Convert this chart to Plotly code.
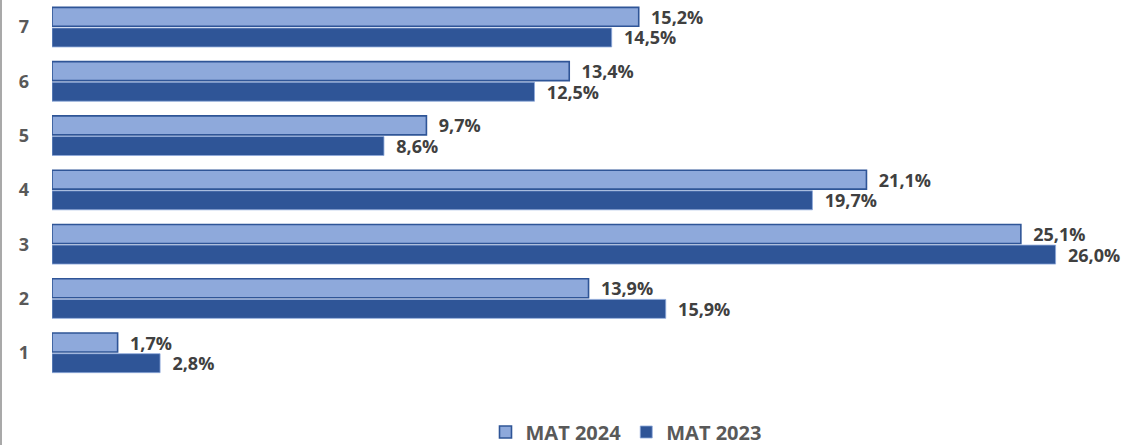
import plotly.graph_objects as go

categories = ["1", "2", "3", "4", "5", "6", "7"]
mat_2024 = [1.7, 13.9, 25.1, 21.1, 9.7, 13.4, 15.2]
mat_2023 = [2.8, 15.9, 26.0, 19.7, 8.6, 12.5, 14.5]

def fmt(v):
    return "\u00a0\u00a0" + f"{v:.1f}".replace(".", ",") + "%"

label_font = dict(family="Open Sans, Lato, sans-serif", size=18, color="#404040", weight="bold")

fig = go.Figure()
fig.add_trace(go.Bar(
    name="MAT 2023", y=categories, x=mat_2023, orientation="h",
    marker=dict(color="#2F5597", line=dict(color="#8EA9DB", width=0.8)),
    text=[fmt(v) for v in mat_2023], textposition="outside",
    textfont=label_font, cliponaxis=False, constraintext="none",
))
fig.add_trace(go.Bar(
    name="MAT 2024", y=categories, x=mat_2024, orientation="h",
    marker=dict(color="#8EA9DB", line=dict(color="#2F5597", width=1.6)),
    text=[fmt(v) for v in mat_2024], textposition="outside",
    textfont=label_font, cliponaxis=False, constraintext="none",
))

W, H = 1147, 445
L, R, T, B = 52, 0, 0, 65
pw = W - L - R
ph = H - T - B

fig.update_layout(
    width=W, height=H,
    margin=dict(l=L, r=R, t=T, b=B, autoexpand=False),
    plot_bgcolor="white", paper_bgcolor="white",
    barmode="group", bargap=0.24, bargroupgap=0.08,
    xaxis=dict(range=[0, pw / 38.6], visible=False, showgrid=False, zeroline=False,
               automargin=False),
    yaxis=dict(showgrid=False, zeroline=False, showline=False, ticks="", automargin=False,
               tickfont=dict(family="Open Sans, Lato, sans-serif", size=18, color="#595959",
                             weight="bold"),
               ticklabelstandoff=22),
    legend=dict(orientation="h", traceorder="reversed", x=(626 - L) / pw, xanchor="center",
                y=-(432 - ph) / ph, yanchor="middle",
                font=dict(family="Open Sans, Lato, sans-serif", size=20, color="#595959",
                          weight="bold"),
                itemwidth=30),
    showlegend=True,
    shapes=[dict(type="line", xref="paper", yref="paper",
                 x0=(1 - L) / pw, x1=(1 - L) / pw, y0=-B / ph, y1=1,
                 line=dict(color="#8C8C8C", width=1.5))],
)

fig.write_html("out.html", config={"displayModeBar": False},
               post_script="document.body.style.margin='0';")
